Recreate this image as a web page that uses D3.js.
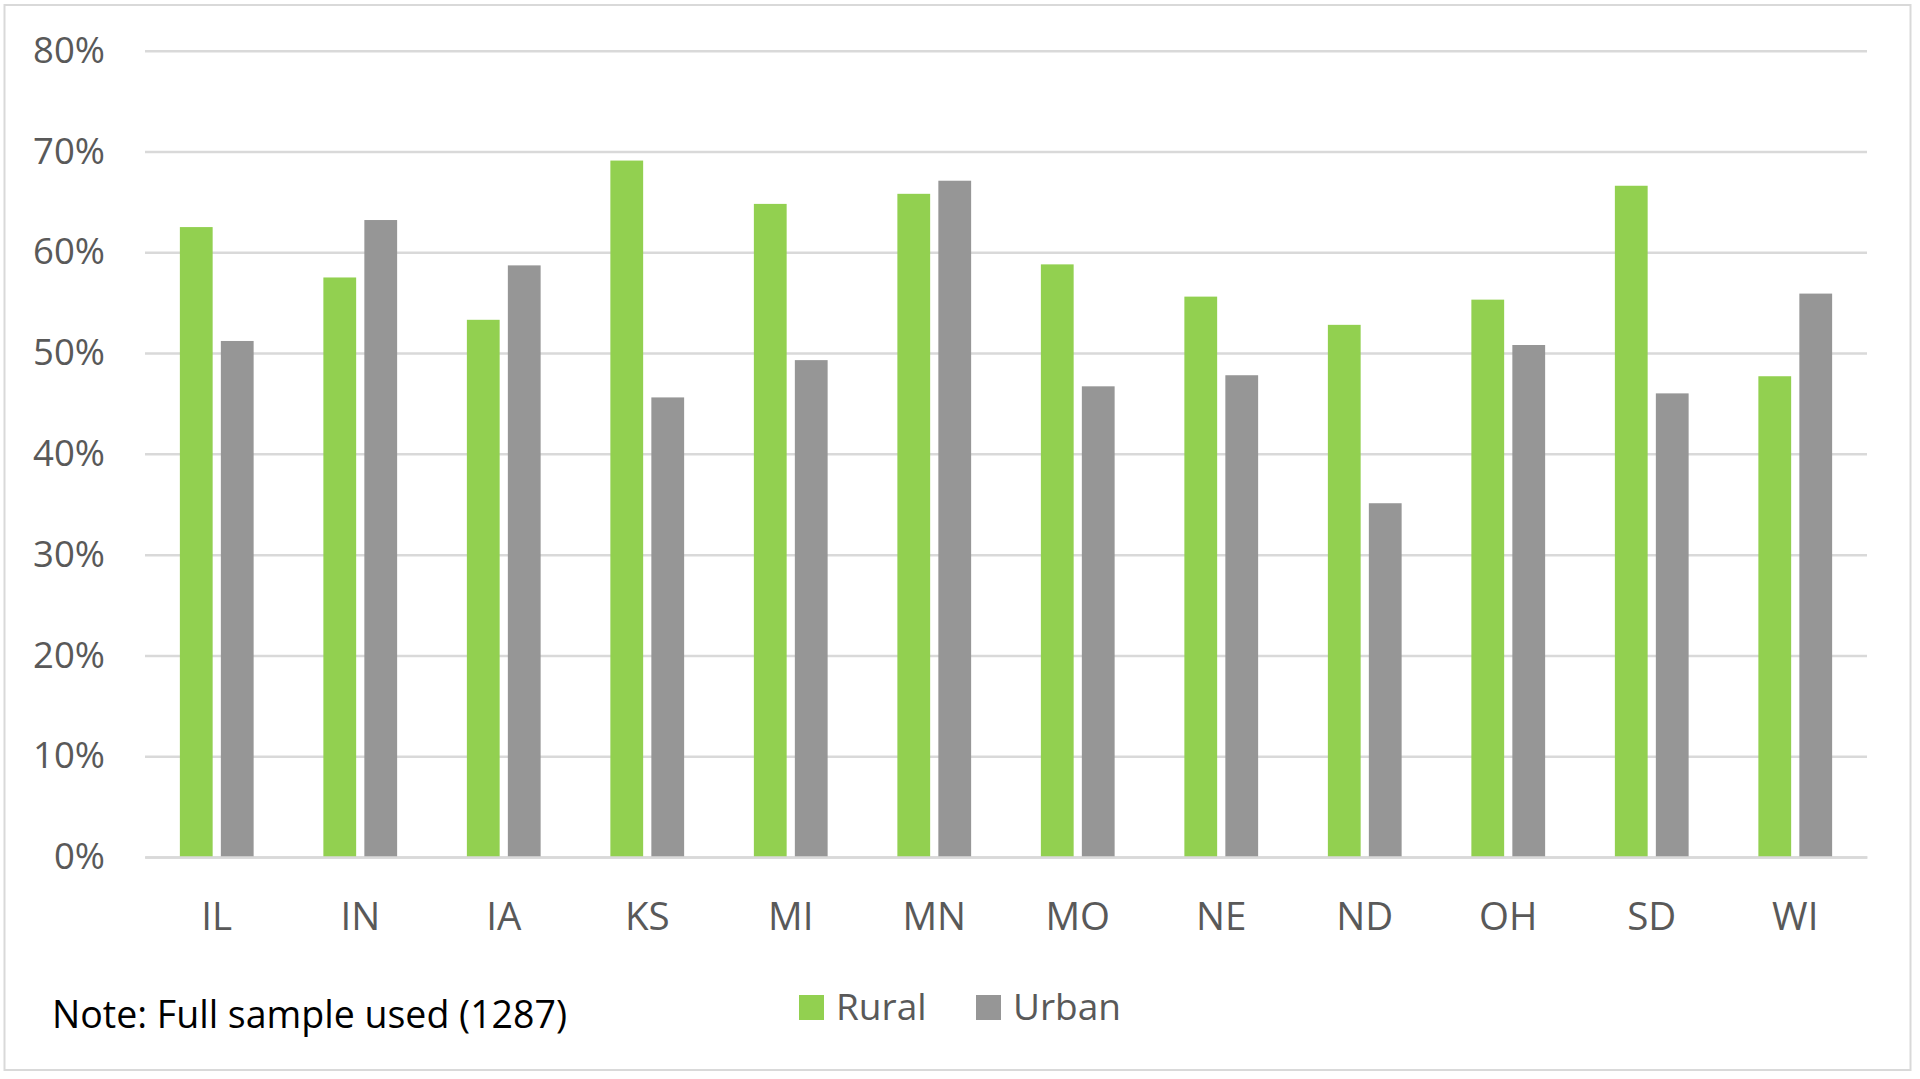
<!DOCTYPE html>
<html>
<head>
<meta charset="utf-8">
<script src="https://cdn.jsdelivr.net/npm/d3@7"></script>
<style>
  body { margin: 0; background: #fff; }
  text { font-family: "Open Sans", Lato, sans-serif; }
</style>
</head>
<body>
<svg id="chart" width="1920" height="1079"></svg>
<script>
// states on the x axis
const states = ["IL", "IN", "IA", "KS", "MI", "MN", "MO", "NE", "ND", "OH", "SD", "WI"];
// share of respondents, in percent
const rural = [62.5, 57.5, 53.3, 69.1, 64.8, 65.8, 58.8, 55.6, 52.8, 55.3, 66.6, 47.7];
const urban = [51.2, 63.2, 58.7, 45.6, 49.3, 67.1, 46.7, 47.8, 35.1, 50.8, 46.0, 55.9];
const seriesNames = ["Rural", "Urban"];
const seriesColors = ["#92D050", "#969696"];
const yTicks = [0, 10, 20, 30, 40, 50, 60, 70, 80];
const noteText = "Note: Full sample used (1287)";

const svg = d3.select("#chart");

// outer frame
svg.append("rect")
    .attr("x", 4.5).attr("y", 5)
    .attr("width", 1906).attr("height", 1065)
    .attr("fill", "#fff")
    .attr("stroke", "#D9D9D9")
    .attr("stroke-width", 2);

const plotLeft = 145, plotRight = 1867, plotTop = 50.7, plotBottom = 857;

const x = d3.scaleBand().domain(states).range([plotLeft, plotRight]).padding(0);
const pad = x.bandwidth() * 0.243;
const xSub = d3.scaleBand().domain(seriesNames)
    .range([pad, x.bandwidth() - pad]).paddingInner(0.2);
const y = d3.scaleLinear().domain([0, 80]).range([plotBottom, plotTop]);

// gridlines + y labels
const yAxis = d3.axisLeft(y)
    .tickValues(yTicks)
    .tickSize(-(plotRight - plotLeft))
    .tickPadding(40)
    .tickFormat(d => d + "%");

const gy = svg.append("g")
    .attr("transform", `translate(${plotLeft},0)`)
    .call(yAxis);
gy.select(".domain").remove();
gy.selectAll(".tick line").attr("stroke", "#D9D9D9").attr("stroke-width", 2.5);
gy.selectAll(".tick text")
    .attr("fill", "#595959")
    .attr("font-size", 36.5);

// bars
const rows = states.map((s, i) => ({ state: s, values: [rural[i], urban[i]] }));

const groups = svg.append("g").selectAll("g")
    .data(rows)
    .enter()
    .append("g")
    .attr("transform", d => `translate(${x(d.state)},0)`);

groups.selectAll("rect")
    .data(d => d.values.map((v, j) => ({ key: seriesNames[j], value: v, color: seriesColors[j] })))
    .enter()
    .append("rect")
    .attr("x", d => xSub(d.key))
    .attr("width", xSub.bandwidth())
    .attr("y", d => y(d.value))
    .attr("height", d => y(0) - y(d.value))
    .attr("fill", d => d.color);

// x axis
const xAxis = d3.axisBottom(x).tickSize(0).tickPadding(46);
const gx = svg.append("g")
    .attr("transform", `translate(0,${plotBottom})`)
    .call(xAxis);
gx.select(".domain").attr("stroke", "#D9D9D9").attr("stroke-width", 2.5);
gx.selectAll(".tick text")
    .attr("fill", "#595959")
    .attr("font-size", 38.5);

// legend
const legendX = [799, 976];
const legend = svg.append("g").selectAll("g")
    .data(seriesNames)
    .enter()
    .append("g")
    .attr("transform", (d, i) => `translate(${legendX[i]},995)`);
legend.append("rect")
    .attr("width", 25).attr("height", 25)
    .attr("fill", (d, i) => seriesColors[i]);
legend.append("text")
    .attr("x", 37).attr("y", 25)
    .attr("fill", "#595959")
    .attr("font-size", 37)
    .text(d => d);

// note
svg.append("text")
    .attr("x", 52).attr("y", 1028)
    .attr("fill", "#000")
    .attr("font-size", 37.5)
    .text(noteText);
</script>
</body>
</html>
